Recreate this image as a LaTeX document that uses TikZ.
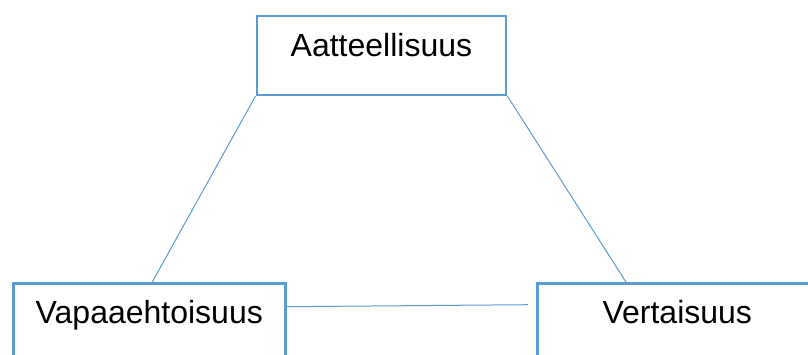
\documentclass[tikz,border=0pt]{standalone}
\usepackage{fontspec}
\setmainfont{Liberation Sans}
\usetikzlibrary{calc}
\definecolor{officeblue}{HTML}{5B9BD5}

\begin{document}
\begin{tikzpicture}[x=0.75pt,y=-0.75pt,
	box/.style={draw=officeblue,line width=1.9pt,inner sep=0pt,anchor=north west,
		font=\fontsize{24}{28}\selectfont,text height=30.4pt},
	link/.style={officeblue,line width=0.75pt}]
		\useasboundingbox (0,0) rectangle (808,354);
		\clip (0,0) rectangle (808,354);
		\node[box,minimum width=187pt,text depth=28.9pt] (aatt) at (255.5,14.5) {Aatteellisuus};
		\node[box,minimum width=204pt,text depth=36pt] (vapaa) at (12,282) {Vapaaehtoisuus};
		\node[box,minimum width=210pt,text depth=36pt] (vert) at (536,282) {Vertaisuus};
		\coordinate (P) at ($(vapaa.north)+(3,0)$);
		\coordinate (Q) at ($(vert.north west)+(90,0)$);
		\coordinate (R) at ($(vapaa.north east)+(0,24.7)$);
		\coordinate (S) at ($(vert.north west)+(-8,22.7)$);
		\draw[link] (aatt.south west) -- (P);
		\draw[link] (aatt.south east) -- (Q);
		\draw[link] (R) -- (S);
\end{tikzpicture}
\end{document}
